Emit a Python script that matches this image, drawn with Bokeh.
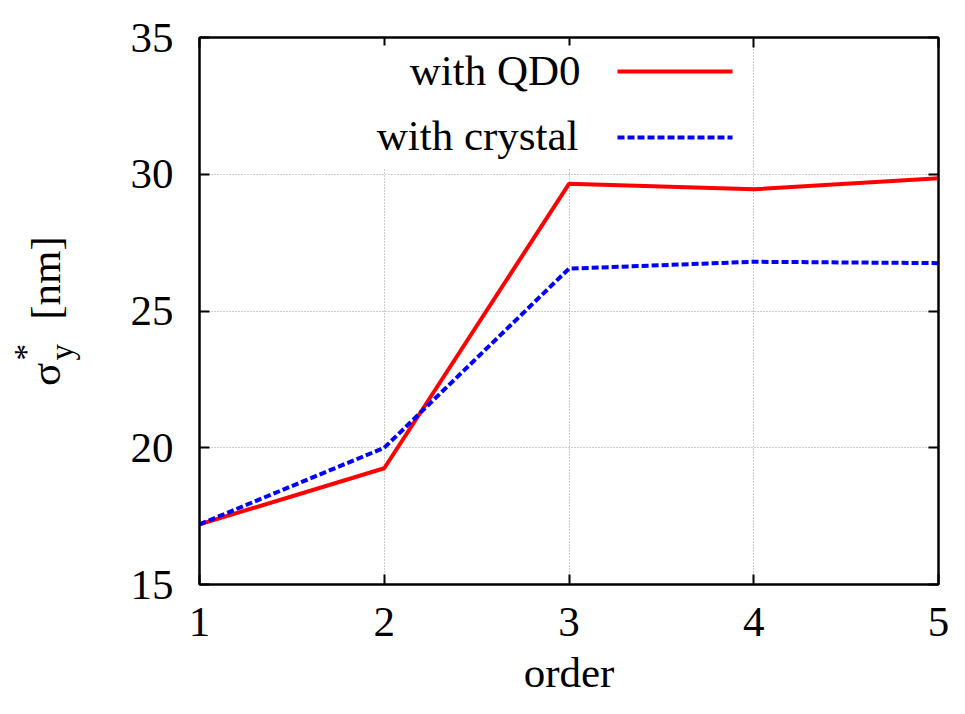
from bokeh.plotting import figure
from bokeh.models import Range1d, FixedTicker, LinearAxis, Label, BoxAnnotation, Arrow
from bokeh.embed import file_html
from bokeh.resources import INLINE

# ---- data ----
order = [1, 2, 3, 4, 5]
sigma_qd0 = [17.2, 19.25, 29.65, 29.45, 29.85]
sigma_crystal = [17.2, 20.0, 26.55, 26.8, 26.75]
x_ticks = [1, 2, 3, 4, 5]
y_ticks = [15, 20, 25, 30, 35]
series_labels = ["with QD0", "with crystal"]
x_label = "order"
NB = "\u00a0"
y_label_main = "σ" + NB * 4 + "[nm]"
y_label_scripts = "*" + NB * 10 + "\n" + "y" + NB * 10

FONT = "Liberation Serif"
FS = "43px"

p = figure(width=949, height=698, output_backend="svg", toolbar_location=None,
           x_range=Range1d(1, 5), y_range=Range1d(15, 35),
           min_border_left=199, min_border_right=11, min_border_top=37,
           min_border_bottom=114)
p.background_fill_color = "white"
p.border_fill_color = "white"
p.outline_line_color = "black"
p.outline_line_width = 2

def style_axis(ax, labels=True):
    ax.axis_line_color = "black"
    ax.axis_line_width = 2
    ax.major_tick_line_color = "black"
    ax.major_tick_line_width = 2
    ax.major_tick_in = 10
    ax.major_tick_out = 0
    ax.minor_tick_line_color = None
    ax.major_label_text_font = FONT
    ax.major_label_text_color = "black"
    ax.axis_label_text_font = FONT
    ax.axis_label_text_font_style = "normal"
    ax.axis_label_text_color = "black"
    ax.axis_label_text_font_size = FS
    if labels:
        ax.major_label_text_font_size = FS
    else:
        ax.major_label_text_font_size = "0px"
        ax.major_label_standoff = 0

xt = FixedTicker(ticks=x_ticks)
yt = FixedTicker(ticks=y_ticks)

xa = p.xaxis[0]
style_axis(xa)
xa.ticker = xt
xa.major_label_standoff = 23
xa.axis_label = x_label
xa.axis_label_standoff = 10

ya = p.yaxis[0]
style_axis(ya)
ya.ticker = yt
ya.major_label_standoff = 26
ya.axis_label = y_label_main
ya.axis_label_standoff = 59

top_ax = LinearAxis(ticker=FixedTicker(ticks=x_ticks))
style_axis(top_ax, labels=False)
p.add_layout(top_ax, "above")
right_ax = LinearAxis(ticker=FixedTicker(ticks=y_ticks))
style_axis(right_ax, labels=False)
p.add_layout(right_ax, "right")

# superscript * and subscript y of the y-axis title
script_ax = LinearAxis(ticker=FixedTicker(ticks=[]))
style_axis(script_ax, labels=False)
script_ax.axis_line_color = None
script_ax.major_tick_line_color = None
script_ax.axis_label = y_label_scripts
script_ax.axis_label_text_font_size = "33px"
script_ax.axis_label_text_line_height = 1.0
script_ax.axis_label_standoff = -61
p.add_layout(script_ax, "left")

for g, t in ((p.xgrid[0], xt), (p.ygrid[0], yt)):
    g.ticker = t
    g.grid_line_color = "#999999"
    g.grid_line_width = 1
    g.grid_line_dash = "1 2"

p.line(order, sigma_qd0, line_color="#ff0000", line_width=4)
p.line(order, sigma_crystal, line_color="#0000ff", line_width=4, line_dash="7 3")

# ---- legend (gnuplot style: text right-aligned, sample on the right) ----
p.add_layout(BoxAnnotation(left=163, right=543, bottom=416, top=539,
                           left_units="screen", right_units="screen",
                           bottom_units="screen", top_units="screen",
                           fill_color="white", fill_alpha=1.0, line_color=None,
                           level="annotation"))
p.add_layout(Label(x=381, y=514, x_units="screen", y_units="screen",
                   text=series_labels[0], text_align="right", text_baseline="middle",
                   text_font=FONT, text_font_size=FS, text_color="black"))
p.add_layout(Label(x=379, y=449, x_units="screen", y_units="screen",
                   text=series_labels[1], text_align="right", text_baseline="middle",
                   text_font=FONT, text_font_size=FS, text_color="black"))
p.add_layout(Arrow(end=None, x_start=418, y_start=513, x_end=533, y_end=513,
                   start_units="screen", end_units="screen",
                   line_color="#ff0000", line_width=4))
p.add_layout(Arrow(end=None, x_start=418, y_start=447, x_end=533, y_end=447,
                   start_units="screen", end_units="screen",
                   line_color="#0000ff", line_width=4, line_dash="7 3"))

open("out.html", "w").write(file_html(p, INLINE))
